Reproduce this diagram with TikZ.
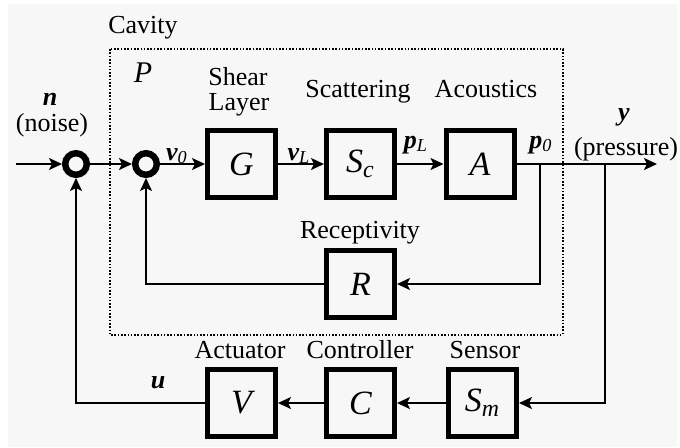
\documentclass[tikz,border=0pt]{standalone}
\usepackage{fontspec}
\setmainfont{LiberationSerif}[Extension=.ttf,UprightFont=*-Regular,BoldFont=*-Bold,ItalicFont=*-Italic,BoldItalicFont=*-BoldItalic]
\usetikzlibrary{arrows.meta}
\begin{document}
\begin{tikzpicture}[x=0.5pt,y=-0.5pt,
  arr/.style={line width=1pt,-{Stealth[length=6.5pt,width=6pt,inset=1.5pt]}},
  blk/.style={draw,line width=2.5pt,minimum width=34pt,minimum height=33.5pt,inner sep=0pt,font=\fontsize{17}{20}\selectfont\itshape},
  sumc/.style={draw,circle,line width=3.2pt,minimum size=10.8pt,inner sep=0pt},
  lbl/.style={font=\fontsize{13}{13}\selectfont,anchor=base,inner sep=0pt},
  sig/.style={font=\fontsize{13}{13}\selectfont\bfseries\itshape,anchor=base,inner sep=0pt},
  frame/.style={line width=1pt,dash pattern=on 0.8pt off 0.85pt},
]
\useasboundingbox (0,0) rectangle (680,447);
\fill[black!3] (8,4) rectangle (677,447);

% cavity frame
\draw[frame] (109.5,49) rectangle (563,334.5);
\node[lbl] (cav) at (143,33) {Cavity};
\node[lbl,font=\fontsize{15}{15}\selectfont\itshape] (P) at (143,82) {P};

% blocks
\node[sumc] (s1) at (76,164) {};
\node[sumc] (s2) at (146,164) {};
\node[blk] (G) at (241.5,164) {G};
\node[blk] (Sc) at (360.5,164) {S\textsubscript{c}};
\node[blk] (A) at (480,164) {A};
\node[blk] (R) at (360.5,284) {R};
\node[blk] (V) at (241.5,403) {V};
\node[blk] (C) at (360.5,403) {C};
\node[blk] (Sm) at (482.5,403) {S\textsubscript{m}};

% block titles
\node[lbl] (shear) at (238,85) {Shear};
\node[lbl] (layer) at (239,110) {Layer};
\node[lbl] (scat) at (358,97) {Scattering};
\node[lbl] (acou) at (486,97) {Acoustics};
\node[lbl] (rec) at (360,238) {Receptivity};
\node[lbl] (act) at (240,358) {Actuator};
\node[lbl] (ctl) at (360,358) {Controller};
\node[lbl] (sen) at (485,358) {Sensor};

% signal labels
\node[sig] (n) at (50,105) {n};
\node[lbl] (noise) at (52,131) {(noise)};
\node[sig] (v0) at (177,160) {v\textsubscript{\mdseries 0}};
\node[sig] (vL) at (299,160) {v\textsubscript{\mdseries L}};
\node[sig] (pL) at (416,148) {p\textsubscript{\mdseries L}};
\node[sig] (p0) at (541,148) {p\textsubscript{\mdseries 0}};
\node[sig] (y) at (624,120) {y};
\node[lbl] (press) at (626,155) {(pressure)};
\node[sig] (u) at (158,388) {u};

% connectors
\coordinate (in) at (16,164);
\coordinate (out) at (657,164);
\coordinate (b1) at (540,164);
\coordinate (b2) at (605,164);
\draw[arr] (in) -- (s1);
\draw[arr] (s1) -- (s2);
\draw[arr] (s2) -- (G);
\draw[arr] (G) -- (Sc);
\draw[arr] (Sc) -- (A);
\draw[arr] (A) -- (out);
\draw[arr] (b1) |- (R);
\draw[arr] (b2) |- (Sm);
\draw[arr] (Sm) -- (C);
\draw[arr] (C) -- (V);
\draw[arr] (R) -| (s2);
\draw[arr] (V) -| (s1);
\end{tikzpicture}
\end{document}
